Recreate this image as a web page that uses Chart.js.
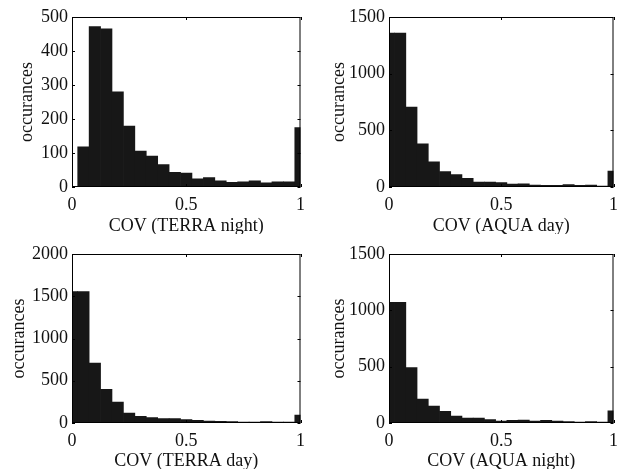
<!DOCTYPE html>
<html>
<head>
<meta charset="utf-8">
<script src="https://cdn.jsdelivr.net/npm/chart.js@4.4.0/dist/chart.umd.min.js"></script>
<style>
  html, body { margin: 0; padding: 0; background: #fff; }
  #wrap { position: relative; width: 625px; height: 469px; }
  canvas { position: absolute; }
</style>
</head>
<body>
<div id="wrap">
  <canvas id="c1" width="312" height="234" style="left:0;top:0"></canvas>
  <canvas id="c2" width="313" height="234" style="left:312px;top:0"></canvas>
  <canvas id="c3" width="312" height="235" style="left:0;top:234px"></canvas>
  <canvas id="c4" width="313" height="235" style="left:312px;top:234px"></canvas>
</div>
<script>
// histogram bin centres (COV)
var binCenters = [0, 0.05, 0.1, 0.15, 0.2, 0.25, 0.3, 0.35, 0.4, 0.45, 0.5,
                  0.55, 0.6, 0.65, 0.7, 0.75, 0.8, 0.85, 0.9, 0.95, 1];

// occurances per bin
var terraNight = [0, 118, 472, 465, 280, 179, 106, 91, 66, 43, 41, 24, 28, 18, 14, 15, 18, 12, 15, 15, 175];
var aquaDay    = [1359, 1359, 706, 382, 221, 135, 109, 76, 44, 44, 38, 26, 29, 18, 15, 15, 21, 15, 18, 9, 141];
var terraDay   = [1555, 1555, 709, 398, 248, 118, 79, 63, 51, 51, 39, 31, 24, 20, 16, 12, 12, 16, 12, 12, 94];
var aquaNight  = [1072, 1072, 493, 213, 151, 103, 62, 44, 44, 30, 18, 24, 27, 18, 24, 18, 12, 9, 12, 9, 109];

// tick labels
var xTicks = [0, 0.5, 1];
var yTicksTerraNight = [0, 100, 200, 300, 400, 500];
var yTicksAquaDay = [0, 500, 1000, 1500];
var yTicksTerraDay = [0, 500, 1000, 1500, 2000];
var yTicksAquaNight = [0, 500, 1000, 1500];

var serif = "'Liberation Serif', 'Times New Roman', serif";
var ink = '#111';

// matlab style box with inward ticks
var boxTicks = {
  id: 'boxTicks',
  afterDraw: function (chart) {
    var ctx = chart.ctx, a = chart.chartArea;
    var xs = chart.scales.x, ys = chart.scales.y;
    ctx.save();
    ctx.strokeStyle = '#000';
    ctx.lineWidth = 1;
    ctx.beginPath();
    xs.ticks.forEach(function (t) {
      var px = Math.round(xs.getPixelForValue(t.value)) + 0.5;
      ctx.moveTo(px, a.bottom); ctx.lineTo(px, a.bottom - 3);
      ctx.moveTo(px, a.top); ctx.lineTo(px, a.top + 3);
    });
    ys.ticks.forEach(function (t) {
      var py = Math.round(ys.getPixelForValue(t.value)) + 0.5;
      ctx.moveTo(a.left, py); ctx.lineTo(a.left + 3, py);
      ctx.moveTo(a.right, py); ctx.lineTo(a.right - 3, py);
    });
    ctx.stroke();
    ctx.strokeRect(a.left + 0.5, a.top + 0.5, a.right - a.left - 1, a.bottom - a.top - 1);
    ctx.restore();
  }
};

function makeHist(id, values, yTicks, xTitle, L, R, T, H, yTitlePad) {
  var pts = binCenters.map(function (c, i) { return { x: c, y: values[i] }; });
  return new Chart(document.getElementById(id), {
    type: 'bar',
    data: {
      datasets: [{
        data: pts,
        backgroundColor: '#171717',
        borderWidth: 0,
        barPercentage: 1,
        categoryPercentage: 1
      }]
    },
    options: {
      responsive: false,
      animation: false,
      devicePixelRatio: 1,
      layout: { padding: { left: 0, right: R, top: T, bottom: 0 } },
      plugins: { legend: { display: false }, tooltip: { enabled: false } },
      scales: {
        x: {
          type: 'linear',
          min: 0, max: 1,
          offset: false,
          grid: { display: false, drawTicks: false },
          border: { display: false },
          afterBuildTicks: function (s) { s.ticks = xTicks.map(function (v) { return { value: v }; }); },
          afterFit: function (s) { s.height = H; },
          ticks: {
            autoSkip: false, maxRotation: 0, padding: 7, color: ink,
            font: { family: serif, size: 18 },
            callback: function (v) { return String(v); }
          },
          title: {
            display: true, text: xTitle, color: ink,
            font: { family: serif, size: 18, lineHeight: 0.9 },
            padding: 0
          }
        },
        y: {
          min: 0, max: yTicks[yTicks.length - 1],
          grid: { display: false, drawTicks: false },
          border: { display: false },
          afterBuildTicks: function (s) { s.ticks = yTicks.map(function (v) { return { value: v }; }); },
          afterFit: function (s) { s.width = L; },
          ticks: {
            autoSkip: false, padding: 4, color: ink,
            font: { family: serif, size: 18 },
            callback: function (v) { return String(v); }
          },
          title: {
            display: true, text: 'occurances', color: ink,
            font: { family: serif, size: 18 },
            padding: { top: yTitlePad, bottom: 0 }
          }
        }
      }
    },
    plugins: [boxTicks]
  });
}

makeHist('c1', terraNight, yTicksTerraNight, 'COV (TERRA night)', 72, 10, 17, 47, 16);
makeHist('c2', aquaDay, yTicksAquaDay, 'COV (AQUA day)', 77, 7, 17, 47, 16);
makeHist('c3', terraDay, yTicksTerraDay, 'COV (TERRA day)', 72, 10, 20, 46, 8);
makeHist('c4', aquaNight, yTicksAquaNight, 'COV (AQUA night)', 77, 7, 20, 46, 16);
</script>
</body>
</html>
